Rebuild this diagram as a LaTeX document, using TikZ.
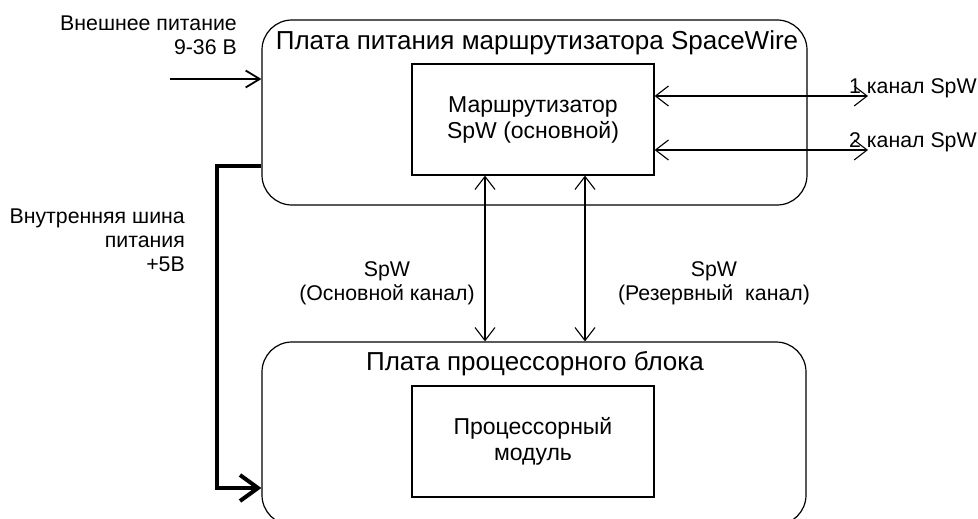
\documentclass[tikz,border=0pt]{standalone}
\usepackage{fontspec}
\setmainfont{Liberation Sans}
\usetikzlibrary{arrows.meta,calc}
\begin{document}
\begin{tikzpicture}[x=1pt,y=-1pt,
  board/.style={draw,line width=1.2pt,rounded corners=30pt,minimum width=#1,inner sep=0pt},
  module/.style={draw,line width=1.2pt,inner sep=0pt,minimum width=242pt,minimum height=111pt,align=center,font=\fontsize{23}{26}\selectfont},
  lbl/.style={inner sep=0pt,font=\fontsize{21.3}{24}\selectfont},
  ttl/.style={inner sep=0pt,font=\fontsize{26}{30}\selectfont},
  thin/.style={line width=1.1pt,{Straight Barb[length=13pt,width=20pt]}-{Straight Barb[length=13pt,width=20pt]}},
  thinr/.style={line width=1.8pt,-{Straight Barb[length=14pt,width=17pt,line width=1.8pt]}},
  bus/.style={line width=4pt,-{Straight Barb[length=18pt,width=26pt,line width=4pt]}}]
\useasboundingbox (0,0) rectangle (978,519);
% boards
\node[board=545pt,minimum height=185pt] (top) at (534.5,112.5) {};
\node[board=544pt,minimum height=183pt] (bot) at (534,433.5) {};
\node[ttl] (toptitle) at (537,43) {Плата питания маршрутизатора SpaceWire};
\node[ttl] (bottitle) at (535,364) {Плата процессорного блока};
% modules
\node[module] (r) at (533,119.5) {Маршрутизатор\\SpW (основной)};
\node[module] (p) at (533,441.5) {Процессорный\\модуль};
% external power
\coordinate (ext) at (170,79);
\draw[thinr] (ext) -- (ext -| top.west);
\node[lbl,align=right,anchor=east] (extlbl) at (237,35) {Внешнее питание\\9-36 В};
% internal bus
\coordinate (b1) at (217,166);
\coordinate (b2) at (217,488);
\draw[bus] (b1 -| top.west) -- (b1) -- (b2) -- (b2 -| bot.west);
\node[lbl,align=right,anchor=east] (buslbl) at (185,240) {Внутренняя шина\\питания\\+5В};
% SpW channels to the processor board
\coordinate (ca) at (485,0);
\coordinate (cb) at (585,0);
\draw[thin] (r.south -| ca) -- (bot.north -| ca);
\draw[thin] (r.south -| cb) -- (bot.north -| cb);
\node[lbl,align=center] (la) at (387,283) {SpW\\(Основной канал)};
\node[lbl,align=center] (lb) at (714,283) {SpW\\(Резервный\ \ канал)};
% external SpW channels
\coordinate (e1) at (868,96);
\coordinate (e2) at (868,150);
\draw[thin] (r.east |- e1) -- (e1);
\draw[thin] (r.east |- e2) -- (e2);
\node[lbl,anchor=west] (l1) at (849,88) {1 канал SpW};
\node[lbl,anchor=west] (l2) at (849,142) {2 канал SpW};
\end{tikzpicture}
\end{document}
